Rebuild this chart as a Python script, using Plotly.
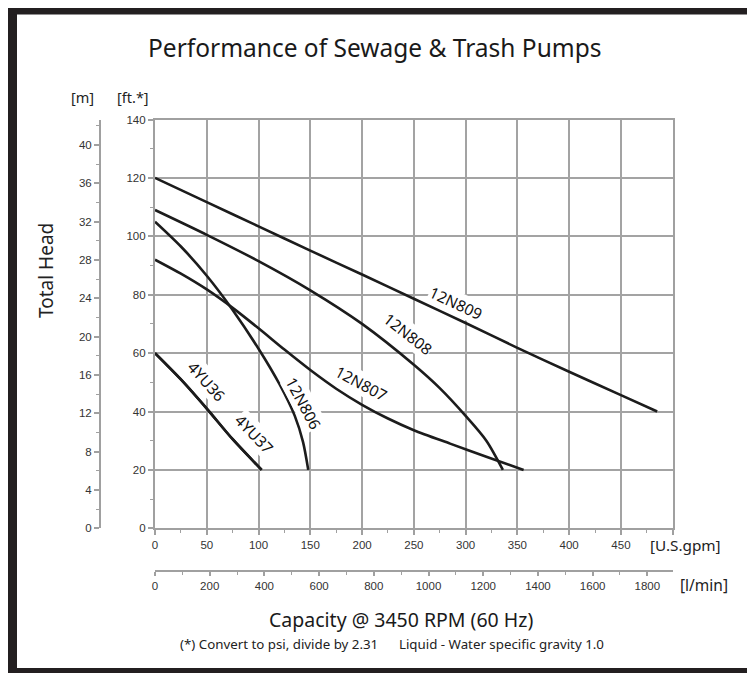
import plotly.graph_objects as go

# ---------------- data ----------------
gpm_12N809 = [0, 50, 100, 150, 200, 250, 300, 350, 400, 450, 485]
ft_12N809 = [120, 111.7, 103.4, 95.1, 86.9, 78.6, 70.3, 61.8, 53.6, 45.6, 40]

gpm_12N808 = [0, 50, 100, 150, 200, 250, 275, 300, 320, 336]
ft_12N808 = [109, 100.5, 91.5, 81.5, 70, 56, 48, 38.5, 30, 20]

gpm_12N807 = [0, 25, 50, 75, 100, 125, 150, 175, 200, 225, 250, 285, 320, 356]
ft_12N807 = [92, 87.2, 81.8, 75.5, 68.5, 61.2, 54.2, 47.8, 42.3, 37.6, 33.6, 29, 24.5, 20]

gpm_12N806 = [0, 25, 50, 75, 100, 120, 135, 143, 148]
ft_12N806 = [105, 96.5, 86.5, 74.8, 61.5, 49.5, 38.5, 29.5, 20]

gpm_4YU36 = [0, 25, 50, 75, 103]
ft_4YU36 = [60, 51, 41, 30.5, 20]
gpm_4YU37 = [0, 25, 50, 75, 103]
ft_4YU37 = [60, 51, 41, 30.5, 20]

series_names = ["12N809", "12N808", "12N807", "12N806", "4YU36", "4YU37"]
series_gpm = [gpm_12N809, gpm_12N808, gpm_12N807, gpm_12N806, gpm_4YU36, gpm_4YU37]
series_ft = [ft_12N809, ft_12N808, ft_12N807, ft_12N806, ft_4YU36, ft_4YU37]

# label anchor (gpm, ft) and angle
label_gpm = [290.7, 244.5, 198.5, 143.5, 49.5, 96.0]
label_ft = [77.3, 66.6, 49.6, 43.0, 50.3, 32.3]
label_angle = [25, 38, 28, 62, 48, 46]

gpm_ticks = [0, 50, 100, 150, 200, 250, 300, 350, 400, 450, 500]
gpm_ticktext = ["0", "50", "100", "150", "200", "250", "300", "350", "400", "450", ""]
lmin_ticks = [0, 200, 400, 600, 800, 1000, 1200, 1400, 1600, 1800]
ft_ticks = [0, 20, 40, 60, 80, 100, 120, 140]
m_ticks = [0, 4, 8, 12, 16, 20, 24, 28, 32, 36, 40]

GPM_MAX = 500
FT_MAX = 140
LPM_PER_GPM = 3.78541
FT_PER_M = 3.28084

# ---------------- layout geometry ----------------
W, H = 755, 673
ML, MR, MT, MB = 20, 20, 20, 20
PW, PH = W - ML - MR, H - MT - MB
OFF = 8  # page body margin


def px(x):
    return (x - OFF - ML) / PW


def py(y):
    return (H - MB - (y - OFF)) / PH


GRID = "#a3a3a3"
AX = "#a0a0a0"
TXT = "#333333"
LINE = "#1c1c1c"
SANS = "Liberation Sans, Arial, sans-serif"
MYR = "Noto Sans, Open Sans, sans-serif"

fig = go.Figure()

for name, xs, ys in zip(series_names, series_gpm, series_ft):
    fig.add_trace(go.Scatter(x=xs, y=ys, mode="lines", name=name,
                             line=dict(color=LINE, width=2.6, shape="spline", smoothing=0.8),
                             showlegend=False, hoverinfo="skip"))

# dummy trace to activate secondary axes
fig.add_trace(go.Scatter(x=[None], y=[None], xaxis="x2", yaxis="y2", mode="lines",
                         showlegend=False, hoverinfo="skip"))

for name, gx, gy, ang in zip(series_names, label_gpm, label_ft, label_angle):
    fig.add_annotation(x=gx, y=gy, xref="x", yref="y", text=name, showarrow=False,
                       textangle=ang, bgcolor="white", borderpad=0,
                       font=dict(family=MYR, size=15.5, color="#111111"))

tickfont = dict(family=SANS, size=11.5, color=TXT)

fig.update_layout(
    width=W, height=H,
    margin=dict(l=ML, r=MR, t=MT, b=MB),
    paper_bgcolor="white", plot_bgcolor="white",
    xaxis=dict(domain=[px(155), px(672.7)], range=[0, GPM_MAX],
               tickmode="array", tickvals=gpm_ticks, ticktext=gpm_ticktext,
               showgrid=True, gridcolor=GRID, gridwidth=1.6,
               showline=True, linecolor=AX, linewidth=2.2, mirror=True,
               ticks="outside", ticklen=5, tickcolor=AX, tickwidth=1.5,
               minor=dict(tickmode="linear", tick0=0, dtick=25, ticks="outside",
                          ticklen=3, tickcolor=AX, tickwidth=1.2, showgrid=False),
               tickfont=tickfont, zeroline=False, fixedrange=True),
    yaxis=dict(domain=[py(528.3), py(119.5)], range=[0, FT_MAX],
               tickmode="array", tickvals=ft_ticks,
               showgrid=True, gridcolor=GRID, gridwidth=1.6,
               showline=True, linecolor=AX, linewidth=2.2, mirror=True,
               ticks="outside", ticklen=5, tickcolor=AX, tickwidth=1.5,
               minor=dict(tickmode="linear", tick0=0, dtick=10, ticks="outside",
                          ticklen=3, tickcolor=AX, tickwidth=1.2, showgrid=False),
               tickfont=tickfont, zeroline=False, fixedrange=True),
    xaxis2=dict(overlaying="x", anchor="free", position=py(571), side="bottom",
                range=[0, GPM_MAX * LPM_PER_GPM],
                tickmode="array", tickvals=lmin_ticks,
                showgrid=False, showline=True, linecolor=AX, linewidth=2,
                ticks="outside", ticklen=4, tickcolor=AX, tickwidth=1.5,
                minor=dict(tickmode="linear", tick0=0, dtick=100, ticks="outside",
                           ticklen=3, tickcolor=AX, tickwidth=1.2, showgrid=False),
                tickfont=tickfont, zeroline=False, fixedrange=True),
    yaxis2=dict(overlaying="y", anchor="free", position=px(100), side="left",
                range=[0, FT_MAX / FT_PER_M],
                tickmode="array", tickvals=m_ticks,
                showgrid=False, showline=True, linecolor=AX, linewidth=2,
                ticks="outside", ticklen=5, tickcolor=AX, tickwidth=1.5,
                minor=dict(tickmode="linear", tick0=0, dtick=2, ticks="outside",
                           ticklen=3, tickcolor=AX, tickwidth=1.2, showgrid=False),
                tickfont=tickfont, zeroline=False, fixedrange=True),
)

# texts
def ann(x, y, text, size, angle=0, color="#222222", family=MYR):
    fig.add_annotation(x=px(x), y=py(y), xref="paper", yref="paper", text=text,
                       showarrow=False, textangle=angle, xanchor="center", yanchor="middle",
                       font=dict(family=family, size=size, color=color))


ann(375, 47, "Performance of Sewage &amp; Trash Pumps", 24.5, color="#1a1a1a")
ann(82, 97, "[m]", 14.5)
ann(133, 97, "[ft.*]", 14.5)
ann(46, 271, "Total Head", 19, angle=-90)
ann(685, 545, "[U.S.gpm]", 15.3)
ann(704, 585, "[l/min]", 15.5)
ann(401, 619, "Capacity @ 3450 RPM (60 Hz)", 19.5, color="#1a1a1a")
ann(392, 644, "(*) Convert to psi, divide by 2.31&nbsp;&nbsp;&nbsp;&nbsp;&nbsp;&nbsp;Liquid - Water specific gravity 1.0", 13.3)

# frame (left, top, bottom bands), kept inside the figure canvas
FR = "#231f20"
for (x0, y0, x1, y1) in [(8, 8, 17, 681), (8, 8, 763, 14.5), (8, 668, 763, 681)]:
    fig.add_shape(type="rect", xref="paper", yref="paper",
                  x0=px(x0), x1=px(x1), y0=py(y1), y1=py(y0),
                  fillcolor=FR, line=dict(width=0), layer="above")

fig.write_html("out.html")
